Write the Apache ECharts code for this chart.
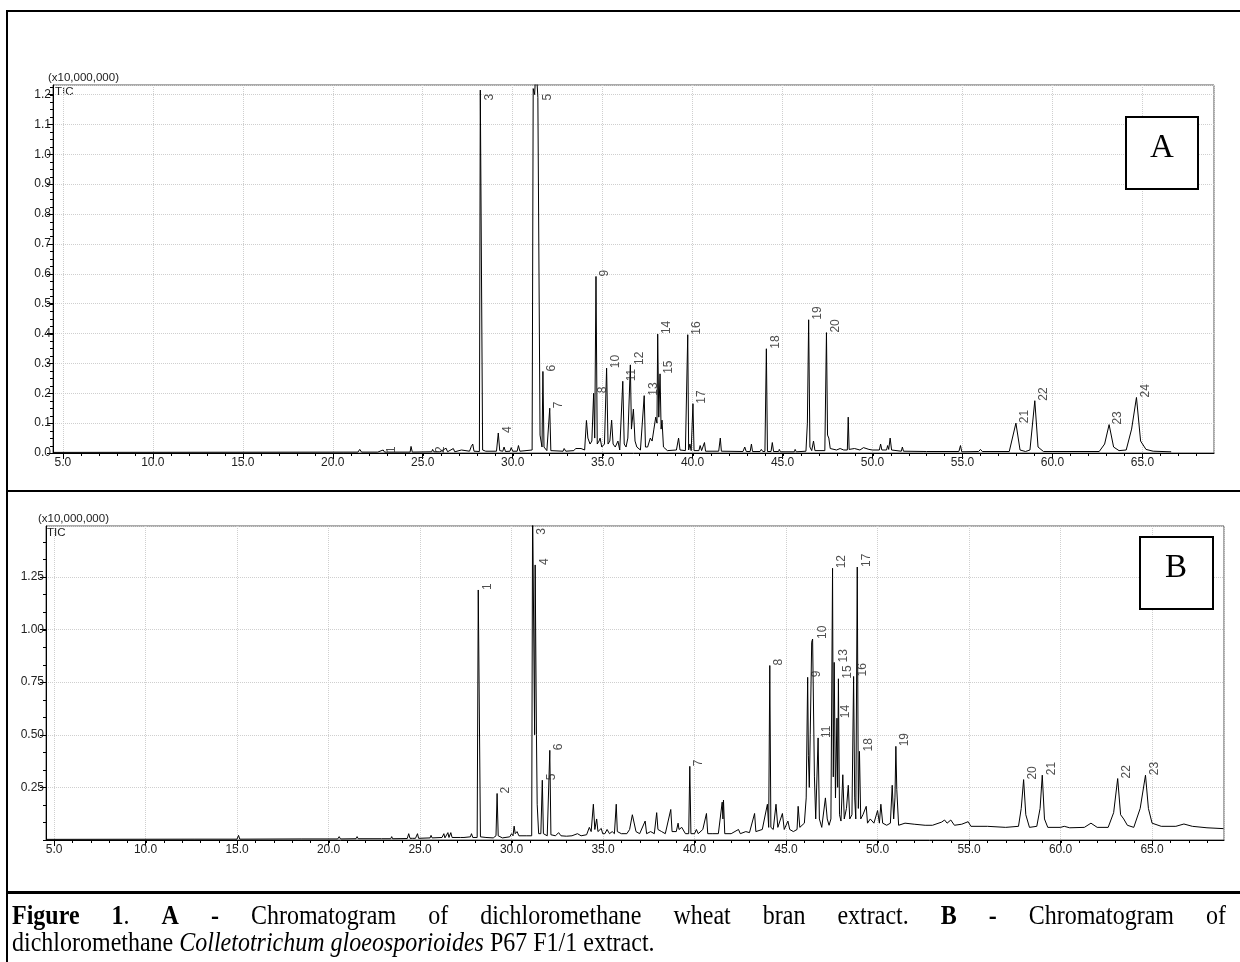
<!DOCTYPE html>
<html><head><meta charset="utf-8">
<script src="https://cdn.jsdelivr.net/npm/echarts@6/dist/echarts.min.js"></script>
<style>html,body{margin:0;padding:0;background:#fff}#c{width:1240px;height:962px}</style>
</head><body><div id="c"></div>
<script>
// ---------- DATA ----------
const traceA = [
[4.5,0.002],[21.4,0.003],[21.5,0.012],[21.6,0.003],[22.5,0.003],[22.8,0.01],[22.88,0.003],[23.1,0.003],[23.15,0.008],[23.2,0.003],[24.3,0.003],[24.35,0.022],[24.42,0.003],[25.5,0.004],[25.55,0.012],[25.62,0.004],[25.8,0.004],[25.85,0.01],[25.95,0.004],[26.3,0.016],[26.38,0.004],[26.7,0.015],[26.78,0.004],[27.15,0.01],[27.22,0.004],[27.6,0.006],[27.7,0.022],[27.78,0.03],[27.85,0.006],[28.15,0.005],[28.2,1.215],[28.28,1.215],[28.33,0.01],[28.5,0.006],[29.1,0.006],[29.2,0.067],[29.28,0.008],[29.45,0.006],[29.52,0.02],[29.6,0.005],[29.85,0.006],[29.92,0.018],[30.0,0.006],[30.25,0.006],[30.32,0.025],[30.4,0.006],[31.08,0.01],[31.14,1.22],[31.22,1.2],[31.3,1.3],[31.4,1.19],[31.47,1.19],[31.52,0.06],[31.58,0.06],[31.63,0.02],[31.68,0.273],[31.74,0.02],[31.9,0.008],[32.06,0.15],[32.12,0.008],[32.8,0.006],[32.86,0.015],[32.95,0.006],[33.4,0.008],[33.5,0.015],[33.6,0.01],[33.8,0.015],[34.0,0.01],[34.1,0.109],[34.18,0.05],[34.3,0.03],[34.4,0.04],[34.5,0.2],[34.56,0.05],[34.63,0.591],[34.7,0.03],[34.8,0.04],[34.86,0.05],[34.95,0.02],[35.1,0.03],[35.22,0.284],[35.3,0.03],[35.4,0.04],[35.5,0.11],[35.58,0.03],[35.7,0.02],[35.85,0.04],[35.95,0.01],[36.12,0.24],[36.2,0.03],[36.3,0.02],[36.4,0.05],[36.54,0.295],[36.6,0.08],[36.71,0.147],[36.8,0.04],[36.9,0.02],[37.1,0.01],[37.31,0.192],[37.38,0.02],[37.5,0.02],[37.65,0.05],[37.75,0.04],[37.85,0.08],[37.95,0.12],[38.02,0.1],[38.06,0.398],[38.12,0.12],[38.19,0.265],[38.25,0.08],[38.3,0.11],[38.38,0.02],[38.6,0.008],[39.1,0.01],[39.22,0.05],[39.3,0.01],[39.6,0.008],[39.73,0.396],[39.78,0.01],[39.85,0.03],[39.92,0.008],[40.02,0.165],[40.08,0.008],[40.35,0.008],[40.42,0.025],[40.5,0.008],[40.6,0.008],[40.66,0.035],[40.72,0.006],[41.45,0.006],[41.54,0.05],[41.6,0.006],[42.8,0.005],[42.9,0.02],[42.98,0.005],[43.2,0.005],[43.27,0.03],[43.33,0.005],[43.75,0.005],[43.82,0.012],[43.9,0.005],[44.02,0.005],[44.1,0.349],[44.16,0.005],[44.36,0.005],[44.43,0.035],[44.5,0.005],[44.78,0.005],[44.82,0.012],[44.88,0.004],[45.65,0.004],[45.7,0.012],[45.76,0.004],[46.3,0.006],[46.38,0.1],[46.45,0.446],[46.52,0.02],[46.62,0.008],[46.72,0.04],[46.8,0.008],[47.35,0.008],[47.44,0.403],[47.5,0.06],[47.57,0.05],[47.65,0.015],[48.0,0.01],[48.2,0.015],[48.4,0.01],[48.6,0.01],[48.65,0.12],[48.7,0.012],[49.0,0.015],[49.3,0.01],[49.5,0.018],[49.8,0.012],[50.0,0.01],[50.38,0.01],[50.45,0.03],[50.52,0.01],[50.78,0.01],[50.84,0.025],[50.9,0.012],[50.98,0.05],[51.06,0.01],[51.6,0.006],[51.66,0.02],[51.72,0.006],[53.0,0.005],[54.8,0.005],[54.89,0.025],[54.96,0.004],[55.9,0.005],[56.0,0.012],[56.1,0.005],[57.6,0.005],[57.97,0.1],[58.2,0.01],[58.5,0.005],[58.75,0.01],[59.02,0.175],[59.2,0.02],[59.5,0.005],[62.6,0.005],[62.9,0.03],[63.15,0.095],[63.4,0.02],[63.7,0.008],[64.1,0.01],[64.4,0.08],[64.67,0.186],[64.9,0.04],[65.2,0.012],[65.6,0.006],[66.6,0.004]
];
const peaksA = [
[22.8,0.0,'1'],[25.5,0.0,'2'],[28.24,1.18,'3'],[29.2,0.067,'4'],[31.45,1.18,'5'],[31.68,0.273,'6'],[32.06,0.15,'7'],[34.5,0.2,'8'],[34.63,0.591,'9'],[35.22,0.284,'10'],[36.12,0.24,'11'],[36.54,0.295,'12'],[37.31,0.192,'13'],[38.06,0.398,'14'],[38.19,0.265,'15'],[39.73,0.396,'16'],[40.02,0.165,'17'],[44.1,0.349,'18'],[46.45,0.446,'19'],[47.44,0.403,'20'],[57.97,0.1,'21'],[59.02,0.175,'22'],[63.15,0.095,'23'],[64.67,0.186,'24']
];
const traceB = [
[4.6,0.003],[12.7,0.004],[12.75,0.01],[12.8,0.004],[15.0,0.004],[15.08,0.022],[15.15,0.004],[18.5,0.005],[20.5,0.005],[20.58,0.016],[20.65,0.005],[21.5,0.006],[21.56,0.016],[21.62,0.006],[22.9,0.006],[22.95,0.012],[23.0,0.006],[23.4,0.006],[23.45,0.016],[23.5,0.006],[24.3,0.007],[24.38,0.03],[24.45,0.008],[24.6,0.008],[24.65,0.015],[24.75,0.008],[24.86,0.03],[24.92,0.008],[25.55,0.01],[25.6,0.022],[25.66,0.01],[26.2,0.012],[26.3,0.03],[26.36,0.01],[26.52,0.035],[26.58,0.012],[26.68,0.035],[26.75,0.012],[27.2,0.012],[27.3,0.018],[27.4,0.012],[27.75,0.015],[27.81,0.03],[27.88,0.012],[28.12,0.012],[28.18,1.188],[28.24,1.188],[28.3,0.015],[28.6,0.012],[29.0,0.01],[29.15,0.02],[29.21,0.221],[29.27,0.02],[29.5,0.01],[29.9,0.015],[30.0,0.03],[30.08,0.02],[30.14,0.066],[30.2,0.03],[30.3,0.04],[30.4,0.02],[30.8,0.02],[31.1,0.02],[31.15,1.6],[31.22,1.6],[31.26,0.5],[31.29,1.307],[31.33,1.307],[31.36,0.5],[31.4,0.17],[31.48,0.03],[31.6,0.03],[31.68,0.284],[31.74,0.03],[31.95,0.02],[32.09,0.426],[32.15,0.025],[32.4,0.02],[32.57,0.035],[32.7,0.02],[33.0,0.018],[33.3,0.02],[33.6,0.03],[33.8,0.02],[34.1,0.025],[34.25,0.06],[34.35,0.04],[34.47,0.17],[34.55,0.05],[34.65,0.1],[34.72,0.04],[34.9,0.055],[34.98,0.03],[35.1,0.03],[35.22,0.05],[35.35,0.03],[35.5,0.04],[35.62,0.03],[35.72,0.17],[35.78,0.04],[36.0,0.03],[36.3,0.03],[36.45,0.05],[36.6,0.12],[36.69,0.126],[36.8,0.04],[37.0,0.03],[37.3,0.09],[37.38,0.03],[37.6,0.04],[37.8,0.03],[37.93,0.13],[38.0,0.05],[38.2,0.04],[38.4,0.03],[38.7,0.145],[38.77,0.04],[39.0,0.04],[39.1,0.08],[39.15,0.05],[39.3,0.06],[39.5,0.03],[39.68,0.03],[39.74,0.35],[39.8,0.03],[40.0,0.03],[40.1,0.05],[40.2,0.03],[40.45,0.05],[40.65,0.126],[40.72,0.03],[41.0,0.03],[41.3,0.03],[41.51,0.18],[41.55,0.1],[41.58,0.19],[41.65,0.03],[42.0,0.03],[42.4,0.05],[42.5,0.03],[42.8,0.04],[43.0,0.035],[43.28,0.126],[43.35,0.04],[43.7,0.05],[43.98,0.17],[44.05,0.06],[44.11,0.829],[44.17,0.06],[44.3,0.05],[44.45,0.17],[44.55,0.06],[44.8,0.126],[44.9,0.05],[45.1,0.09],[45.2,0.05],[45.4,0.04],[45.6,0.05],[45.66,0.16],[45.75,0.06],[46.0,0.08],[46.1,0.2],[46.18,0.773],[46.22,0.4],[46.27,0.25],[46.32,0.5],[46.4,0.94],[46.45,0.955],[46.5,0.95],[46.55,0.3],[46.62,0.1],[46.75,0.485],[46.82,0.1],[46.95,0.06],[47.15,0.2],[47.25,0.1],[47.35,0.07],[47.45,0.1],[47.54,1.291],[47.58,0.3],[47.63,0.844],[47.7,0.2],[47.78,0.579],[47.82,0.25],[47.86,0.766],[47.92,0.12],[48.0,0.09],[48.1,0.31],[48.18,0.1],[48.3,0.15],[48.4,0.26],[48.48,0.1],[48.6,0.12],[48.69,0.777],[48.75,0.2],[48.81,0.1],[48.89,1.297],[48.95,0.15],[49.01,0.421],[49.08,0.1],[49.2,0.12],[49.38,0.16],[49.45,0.08],[49.6,0.1],[49.8,0.08],[50.0,0.14],[50.1,0.08],[50.18,0.17],[50.28,0.08],[50.5,0.07],[50.7,0.08],[50.8,0.26],[50.88,0.1],[50.95,0.2],[51.0,0.445],[51.05,0.24],[51.15,0.07],[51.5,0.08],[52.0,0.075],[52.6,0.07],[53.0,0.07],[53.5,0.085],[53.66,0.095],[53.8,0.08],[54.0,0.095],[54.2,0.07],[54.6,0.075],[54.95,0.087],[55.1,0.065],[56.0,0.065],[57.0,0.06],[57.7,0.065],[57.85,0.15],[57.98,0.287],[58.1,0.12],[58.3,0.06],[58.7,0.065],[58.88,0.15],[59.0,0.308],[59.12,0.1],[59.3,0.06],[60.0,0.06],[60.2,0.065],[60.5,0.058],[61.3,0.06],[61.66,0.08],[62.0,0.06],[62.6,0.06],[62.9,0.13],[63.12,0.292],[63.28,0.12],[63.45,0.1],[63.65,0.07],[64.0,0.06],[64.35,0.15],[64.64,0.308],[64.8,0.15],[65.0,0.08],[65.5,0.065],[66.3,0.065],[66.74,0.076],[67.2,0.065],[68.0,0.058],[68.9,0.054]
];
const peaksB = [
[28.21,1.188,'1'],[29.21,0.221,'2'],[31.18,1.45,'3'],[31.31,1.307,'4'],[31.68,0.284,'5'],[32.09,0.426,'6'],[39.74,0.35,'7'],[44.11,0.829,'8'],[46.18,0.773,'9'],[46.49,0.955,'10'],[46.75,0.485,'11'],[47.54,1.291,'12'],[47.63,0.844,'13'],[47.78,0.579,'14'],[47.86,0.766,'15'],[48.69,0.777,'16'],[48.89,1.297,'17'],[49.01,0.421,'18'],[51.0,0.445,'19'],[57.98,0.287,'20'],[59.0,0.308,'21'],[63.12,0.292,'22'],[64.64,0.308,'23']
];
const xRangeA = [4.45, 68.98], yRangeA = [0, 1.232];
const xRangeB = [4.56, 68.93], yRangeB = [0, 1.492];
const xStep = 5, xMinorStep = 1;
const yStepA = 0.1, yMinorStepA = 0.025, yDecA = 1;
const yStepB = 0.25, yMinorStepB = 0.25/3, yDecB = 2;
const unitLabel = '(x10,000,000)', traceName = 'TIC';
const panelLetters = ['A', 'B'];
const captionLine1 = [[['Figure',1,0]],[['1',1,0],['.',0,0]],[['A',1,0]],[['-',1,0]],[['Chromatogram',0,0]],[['of',0,0]],[['dichloromethane',0,0]],[['wheat',0,0]],[['bran',0,0]],[['extract.',0,0]],[['B',1,0]],[['-',1,0]],[['Chromatogram',0,0]],[['of',0,0]]];
const captionLine2 = [[['dichloromethane',0,0]],[['Colletotrichum',0,1]],[['gloeosporioides',0,1]],[['P67',0,0]],[['F1/1',0,0]],[['extract.',0,0]]];

// ---------- CHART ----------
const FONT = '"Liberation Sans", Arial, sans-serif';
const SERIF = '"Liberation Serif", "Times New Roman", serif';
const chart = echarts.init(document.getElementById('c'), null, {renderer: 'canvas'});

// minor tick positions (axis decoration, stepped between major ticks)
function steps(lo, hi, st) { const out = []; for (let i = Math.ceil(lo / st - 1e-9); i * st <= hi + 1e-9; i++) out.push(+(i * st).toFixed(6)); return out; }

function mainX(grid, r) {
  return {type:'value', gridIndex:grid, position:'bottom', min:r[0], max:r[1], minInterval:xStep, maxInterval:xStep,
    axisLine:{show:true, onZero:false, lineStyle:{color:'#000', width:1}},
    axisTick:{show:true, length:6, lineStyle:{color:'#000'}},
    axisLabel:{show:true, fontSize:12, fontFamily:FONT, color:'#222', margin:4, showMinLabel:false, showMaxLabel:false, formatter:v=>v.toFixed(1)},
    splitLine:{show:true, lineStyle:{color:'#cfcfcf', type:'dotted', width:1}}};
}
function mainY(grid, r, step, dec, hideMin) {
  return {type:'value', gridIndex:grid, position:'left', min:r[0], max:r[1], minInterval:step, maxInterval:step,
    axisLine:{show:true, onZero:false, lineStyle:{color:'#000', width:1}},
    axisTick:{show:true, length:6, lineStyle:{color:'#000'}},
    axisLabel:{show:true, fontSize:12, fontFamily:FONT, color:'#222', margin:2, showMinLabel:!hideMin, showMaxLabel:false, formatter:v=>v.toFixed(dec)},
    splitLine:{show:true, lineStyle:{color:'#cfcfcf', type:'dotted', width:1}}};
}
function minorTickSeries(xi, yi, xr, yr, xst, yst) {
  const data = steps(xr[0], xr[1], xst).map(v => [v, yr[0], 0]).concat(steps(yr[0], yr[1], yst).map(v => [xr[0], v, 1]));
  return {type:'custom', xAxisIndex:xi, yAxisIndex:yi, silent:true, clip:false, z:6, data:data,
    renderItem:(params, api) => {
      const p = api.coord([api.value(0), api.value(1)]);
      if (api.value(2) === 0) { const x = Math.round(p[0]) + 0.5; return {type:'line', shape:{x1:x, y1:p[1], x2:x, y2:p[1] + 3}, style:{stroke:'#000', lineWidth:1}}; }
      const y = Math.round(p[1]) + 0.5; return {type:'line', shape:{x1:p[0] - 3, y1:y, x2:p[0], y2:y}, style:{stroke:'#000', lineWidth:1}};
    }};
}
function labelSeries(xi, yi, peaks) {
  return {type:'scatter', xAxisIndex:xi, yAxisIndex:yi, symbolSize:0, silent:true, clip:false, z:5,
    data: peaks.map(p => ({value:[p[0], p[1]], name:p[2]})),
    label:{show:true, formatter:p=>p.name, position:[9,0], rotate:90, align:'left', verticalAlign:'middle',
      fontSize:12, fontFamily:FONT, color:'#222'}};
}

// caption layout
const meas = document.createElement('canvas').getContext('2d');
function fontOf(run, size) { return (run[2] ? 'italic ' : '') + (run[1] ? 'bold ' : '') + size + 'px ' + SERIF; }
function wordWidth(word, size) { let w = 0; word.forEach(r => { meas.font = fontOf(r, size); w += meas.measureText(r[0]).width; }); return w; }
const CAP = 24, CAPSY = 1.12;
function captionGraphics(words, x0, x1, y, justify) {
  const out = [];
  const ws = words.map(w => wordWidth(w, CAP));
  const tot = ws.reduce((a,b)=>a+b,0);
  meas.font = CAP + 'px ' + SERIF;
  const sp = justify ? (x1 - x0 - tot) / (words.length - 1) : meas.measureText(' ').width;
  let x = x0;
  words.forEach((w, i) => {
    let xx = x;
    w.forEach(r => {
      out.push({type:'text', x:xx, y:y, scaleY:CAPSY, style:{text:r[0], font:fontOf(r, CAP), fill:'#000', verticalAlign:'middle', align:'left'}});
      meas.font = fontOf(r, CAP); xx += meas.measureText(r[0]).width;
    });
    x += ws[i] + sp;
  });
  return out;
}

const graphics = [
  {type:'line', shape:{x1:6, y1:11, x2:1240, y2:11}, style:{stroke:'#000', lineWidth:2}},
  {type:'line', shape:{x1:7, y1:10, x2:7, y2:962}, style:{stroke:'#000', lineWidth:2}},
  {type:'line', shape:{x1:6, y1:491, x2:1240, y2:491}, style:{stroke:'#000', lineWidth:2}},
  {type:'line', shape:{x1:6, y1:892.5, x2:1240, y2:892.5}, style:{stroke:'#000', lineWidth:3}},
  {type:'rect', shape:{x:1126, y:117, width:72, height:72}, style:{fill:'#fff', stroke:'#000', lineWidth:2}, z:10},
  {type:'text', x:1162, y:148, z:11, style:{text:panelLetters[0], font:'33px ' + SERIF, fill:'#000', align:'center', verticalAlign:'middle'}},
  {type:'rect', shape:{x:1140, y:537, width:73, height:72}, style:{fill:'#fff', stroke:'#000', lineWidth:2}, z:10},
  {type:'text', x:1176, y:568, z:11, style:{text:panelLetters[1], font:'33px ' + SERIF, fill:'#000', align:'center', verticalAlign:'middle'}},
  {type:'text', x:48, y:84, style:{text:unitLabel, font:'11.5px ' + FONT, fill:'#222', verticalAlign:'bottom'}},
  {type:'text', x:55, y:86, style:{text:traceName, font:'11.5px ' + FONT, fill:'#222', verticalAlign:'top'}},
  {type:'text', x:38, y:525, style:{text:unitLabel, font:'11.5px ' + FONT, fill:'#222', verticalAlign:'bottom'}},
  {type:'text', x:47, y:527, style:{text:traceName, font:'11.5px ' + FONT, fill:'#222', verticalAlign:'top'}}
].concat(captionGraphics(captionLine1, 12, 1226, 917, true), captionGraphics(captionLine2, 12, 0, 944, false));

chart.setOption({
  animation:false,
  backgroundColor:'#fff',
  grid:[
    {left:53, top:85, width:1161, height:368, show:true, borderColor:'#555', borderWidth:1, backgroundColor:'transparent'},
    {left:46, top:526, width:1178, height:314, show:true, borderColor:'#555', borderWidth:1, backgroundColor:'transparent'}
  ],
  xAxis:[mainX(0, xRangeA), mainX(1, xRangeB)],
  yAxis:[mainY(0, yRangeA, yStepA, yDecA, false), mainY(1, yRangeB, yStepB, yDecB, true)],
  series:[
    {type:'line', xAxisIndex:0, yAxisIndex:0, data:traceA, showSymbol:false, symbol:'none', lineStyle:{color:'#000', width:1}, silent:true, clip:true},
    {type:'line', xAxisIndex:1, yAxisIndex:1, data:traceB, showSymbol:false, symbol:'none', lineStyle:{color:'#000', width:1}, silent:true, clip:true},
    labelSeries(0, 0, peaksA),
    labelSeries(1, 1, peaksB),
    minorTickSeries(0, 0, xRangeA, yRangeA, xMinorStep, yMinorStepA),
    minorTickSeries(1, 1, xRangeB, yRangeB, xMinorStep, yMinorStepB)
  ],
  graphic: graphics
});
</script></body></html>
